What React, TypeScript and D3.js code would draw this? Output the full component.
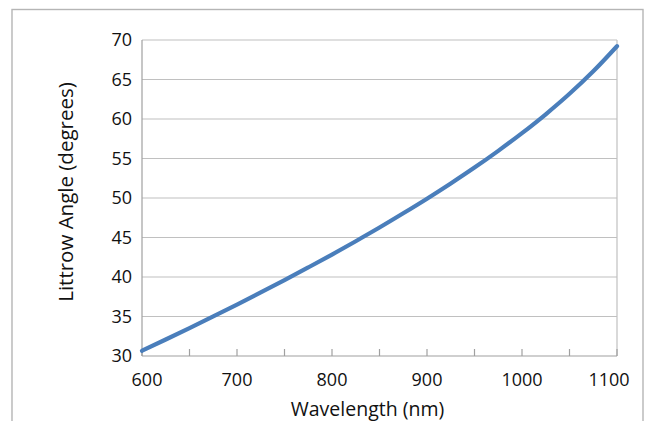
import React from "react";
import * as d3 from "d3";

const wavelengths = [600, 625, 650, 675, 700, 725, 750, 775, 800, 825, 850, 875, 900, 925, 950, 975, 1000, 1025, 1050, 1075, 1100];
const angles = [30.66, 32.09, 33.54, 35.01, 36.51, 38.04, 39.61, 41.21, 42.84, 44.53, 46.26, 48.06, 49.91, 51.84, 53.85, 55.97, 58.21, 60.6, 63.19, 66.04, 69.22];
const xTickLabels = [600, 700, 800, 900, 1000, 1100];
const xMinorTicks = [600, 650, 700, 750, 800, 850, 900, 950, 1000, 1050, 1100];
const yTickLabels = [30, 35, 40, 45, 50, 55, 60, 65, 70];
const xTitle = "Wavelength (nm)";
const yTitle = "Littrow Angle (degrees)";

const W = 646;
const H = 421;
const plot = { left: 142, right: 617, top: 40, bottom: 356 };
const FONT = "'Open Sans', 'Noto Sans', sans-serif";

export default function App() {
  const x = d3.scaleLinear().domain([600, 1100]).range([plot.left, plot.right]);
  const y = d3.scaleLinear().domain([30, 70]).range([plot.bottom, plot.top]);
  const pts = wavelengths.map((w, i) => [w, angles[i]] as [number, number]);
  const line = d3
    .line<[number, number]>()
    .x((d) => x(d[0]))
    .y((d) => y(d[1]))
    .curve(d3.curveMonotoneX);

  const labelShift = (i: number) => (i === 0 ? 5 : i === xTickLabels.length - 1 ? -8 : 0);

  return (
    <svg
      width={W}
      height={H}
      style={{ position: "absolute", left: 0, top: 0, background: "#fff" }}
      fontFamily={FONT}
    >
      <rect x={0} y={0} width={W} height={H} fill="#fff" />
      <rect x={12} y={9.5} width={631} height={430} fill="#fff" stroke="#b5b5b5" strokeWidth={1.4} />
      {yTickLabels.slice(1).map((t) => (
        <line key={"g" + t} x1={plot.left} x2={plot.right} y1={y(t)} y2={y(t)} stroke="#c0c0c0" strokeWidth={1.2} />
      ))}
      <line x1={plot.right} x2={plot.right} y1={plot.top} y2={plot.bottom} stroke="#c0c0c0" strokeWidth={1.2} />
      <line x1={plot.left} x2={plot.left} y1={plot.top} y2={plot.bottom} stroke="#a0a0a0" strokeWidth={1.2} />
      <line x1={plot.left} x2={plot.right} y1={plot.bottom} y2={plot.bottom} stroke="#a0a0a0" strokeWidth={1.2} />
      {xMinorTicks.map((t) => (
        <line key={"t" + t} x1={x(t)} x2={x(t)} y1={plot.bottom - 7} y2={plot.bottom} stroke="#a0a0a0" strokeWidth={1.2} />
      ))}
      {yTickLabels.map((t) => (
        <text key={"yl" + t} x={132} y={y(t)} dy="0.36em" textAnchor="end" fontSize={18} fill="#111">
          {t}
        </text>
      ))}
      {xTickLabels.map((t, i) => (
        <text key={"xl" + t} x={x(t) + labelShift(i)} y={385.5} textAnchor="middle" fontSize={18} fill="#111">
          {t}
        </text>
      ))}
      <text x={367.5} y={415.5} textAnchor="middle" fontSize={19.5} fill="#111">
        {xTitle}
      </text>
      <text
        transform={`translate(72.5, 192) rotate(-90)`}
        textAnchor="middle"
        fontSize={20.5}
        fill="#111"
      >
        {yTitle}
      </text>
      <path d={line(pts) ?? ""} fill="none" stroke="#4A7EBB" strokeWidth={4.2} strokeLinecap="round" strokeLinejoin="round" />
    </svg>
  );
}
